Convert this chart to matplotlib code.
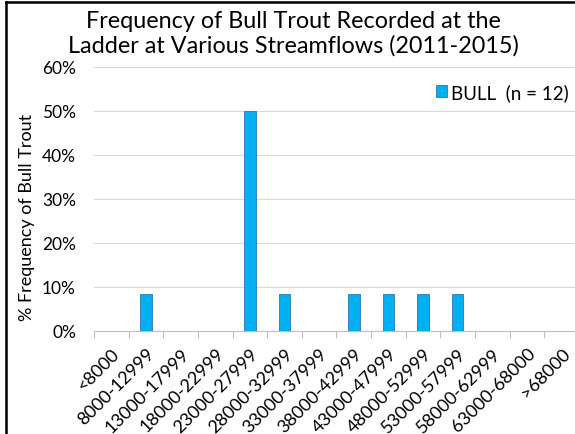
import matplotlib
matplotlib.use("Agg")
import matplotlib.pyplot as plt
from matplotlib.lines import Line2D
import numpy as np

categories = ["<8000", "8000-12999", "13000-17999", "18000-22999", "23000-27999",
              "28000-32999", "33000-37999", "38000-42999", "43000-47999", "48000-52999",
              "53000-57999", "58000-62999", "63000-68000", ">68000"]
bull_pct = [0, 8.33, 0, 0, 50, 8.33, 0, 8.33, 8.33, 8.33, 8.33, 0, 0, 0]
yticks = [0, 10, 20, 30, 40, 50, 60]
ytick_labels = ["0%", "10%", "20%", "30%", "40%", "50%", "60%"]
series_label = "BULL  (n = 12)"
title = "Frequency of Bull Trout Recorded at the\nLadder at Various Streamflows (2011-2015)"
ylabel = "% Frequency of Bull Trout"

plt.rcParams['font.family'] = ['Lato', 'DejaVu Sans']

W, H = 575, 435
fig = plt.figure(figsize=(W/100, H/100), dpi=100)
ax = fig.add_axes([94/W, 1-332/H, 485/W, 264/H])

x = np.arange(len(categories))
ax.bar(x, bull_pct, width=0.33, color="#00B0F0", edgecolor="#2E75B6", linewidth=0.6,
       label=series_label, zorder=3)

ax.set_xlim(-0.5, len(categories)-0.5)
ax.set_ylim(0, 60)
ax.set_yticks(yticks)
ax.set_yticklabels(ytick_labels, fontsize=12.5)
ax.tick_params(axis='y', length=0, pad=13)
ax.set_xticks(x)
ax.set_xticklabels(categories, rotation=45, ha='right', rotation_mode='anchor', fontsize=13)
ax.tick_params(axis='x', which='major', length=0, pad=10)
ax.set_xticks(np.arange(len(categories)+1)-0.5, minor=True)
ax.tick_params(axis='x', which='minor', length=5, width=0.8, color="#BFBFBF", direction='out')

ax.grid(axis='y', color="#D9D9D9", linewidth=0.8, zorder=0)
for s in ['top', 'right', 'left']:
    ax.spines[s].set_visible(False)
ax.spines['bottom'].set_color("#BFBFBF")
ax.spines['bottom'].set_linewidth(0.8)

ax.set_ylabel(ylabel, fontsize=13)
ax.yaxis.set_label_coords(35/W, 0.5, transform=fig.transFigure)

fig.text(0.51, 1-34/H, title, ha='center', va='center', fontsize=16.8, linespacing=1.15)

ax.legend(loc='center left', bbox_to_anchor=(436/W, 1-93/H), bbox_transform=fig.transFigure,
          frameon=False, fontsize=13.5, handlelength=0.6, handleheight=0.6,
          handletextpad=0.2, borderpad=0, borderaxespad=0)

# outer frame (left and top edges visible)
fig.add_artist(Line2D([6/W, 6/W], [0, 1-3/H], transform=fig.transFigure, color='black', linewidth=1.8))
fig.add_artist(Line2D([6/W, 1], [1-3/H, 1-3/H], transform=fig.transFigure, color='black', linewidth=1.8))

fig.savefig("out.png", dpi=100)
